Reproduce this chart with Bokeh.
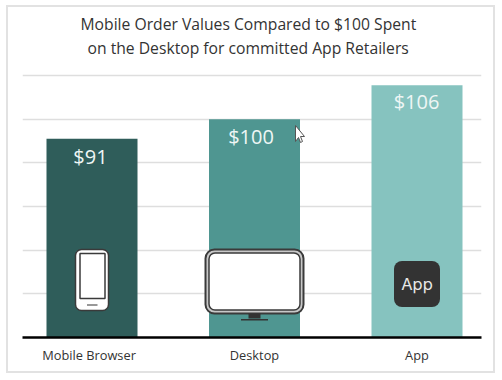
from bokeh.plotting import figure
from bokeh.embed import file_html
from bokeh.resources import INLINE
from bokeh.models import ColumnDataSource, FixedTicker, Title, Range1d
from bokeh.core.properties import value

categories = ["Mobile Browser", "Desktop", "App"]
category_ticks = [-0.018, 1, 2]
bar_heights = [91, 100, 115.5]
value_labels = ["$91", "$100", "$106"]
bar_colors = ["#2f5d5a", "#4f9691", "#86c3bf"]
title_lines = ["on the Desktop for committed App Retailers", "Mobile Order Values Compared to $100 Spent"]
grid_ticks = [20, 40, 60, 80, 100, 120]

X_PX, Y_PX = 162.5, 262 / 120
def dx(px): return px / X_PX
def dy(px): return px / Y_PX

FRAME = "#e2e2e2"
G = f"linear-gradient({FRAME},{FRAME})"
frame_css = ", ".join([
    f"{G} 6px 5px/489px 2px no-repeat",
    f"{G} 6px 371px/489px 2px no-repeat",
    f"{G} 6px 5px/2px 368px no-repeat",
    f"{G} 493px 5px/2px 368px no-repeat",
])

p = figure(width=502, height=380, output_backend="svg", toolbar_location=None,
           x_range=Range1d(-69.5 / X_PX, 389.5 / X_PX), y_range=Range1d(0, 266 / Y_PX),
           min_border_left=22, min_border_right=21, min_border_top=71, min_border_bottom=43,
           outline_line_color=None, background_fill_color=None, border_fill_color=None,
           styles={"background": frame_css})
p.title = None
p.add_layout(Title(text=" ", text_font_size="9.6px", standoff=0), "above")
for line, off in zip(title_lines, [65, 58]):
    p.add_layout(Title(text=line, align="left", offset=off, text_font="Open Sans", text_font_size="15.7px",
                       text_font_style="normal", text_color="#333333", standoff=0,
                       text_line_height=0.78), "above")
p.yaxis.visible = False
p.xgrid.visible = False
p.ygrid.ticker = FixedTicker(ticks=grid_ticks)
p.ygrid.grid_line_color = "#dedede"
p.ygrid.grid_line_width = 1.5
ax = p.xaxis[0]
ax.ticker = FixedTicker(ticks=category_ticks)
ax.major_label_overrides = dict(zip(category_ticks, categories))
ax.axis_line_color = "black"
ax.axis_line_width = 2.5
ax.major_tick_line_color = None
ax.minor_tick_line_color = None
ax.major_label_text_font = "Open Sans"
ax.major_label_text_font_size = "12.8px"
ax.major_label_text_color = "#333333"
ax.major_label_standoff = 2

src = ColumnDataSource(dict(x=[0, 1, 2], top=bar_heights, color=bar_colors, label=value_labels,
                            off=[-1.5, -3.5, -0.5], yoff=[18, 17.5, 16.5]))
p.vbar(x="x", top="top", bottom=0, width=0.56, fill_color="color", line_color=None, source=src)
p.text(x="x", y="top", text="label", source=src, text_color="#eef6f5", text_align="center",
       text_baseline="middle", text_font=value("Open Sans"), text_font_size="20px",
       x_offset="off", y_offset="yoff")

# icons, placed relative to the bar centres
def box(cx, l, r, t, b, fill, line=None, lw=1.5, radius=0):
    # l, r: px from centre; t, b: px above baseline
    p.quad(left=[cx + dx(l)], right=[cx + dx(r)], top=[dy(t)], bottom=[dy(b)],
           fill_color=fill, line_color=line, line_width=lw, border_radius=radius)

# phone
box(0, -16.5, 16.5, 88, 27, "white", "#3a3a3a", 1.5, 6)
box(0, -12, 13, 84, 39, "white", "#3a3a3a", 1.5, 0)
box(0, -5, 5.5, 33, 32, "#333333")
# monitor
box(1, -49, 49, 88, 24, "#c8c8c8", "#3a3a3a", 2, 9)
box(1, -45.5, 45.5, 84.5, 27.5, "white", "#3a3a3a", 1.5, 6)
box(1, -6, 6, 24, 19, "#333333")
box(1, -13.5, 13.5, 18.5, 17, "#333333")
# app tile
box(2, -23, 23, 76.5, 30.5, "#333333", None, 0, 8)
p.text(x=[2], y=[dy(54)], text=["App"], text_color="#e8e8e8", text_align="center",
       text_baseline="middle", text_font=value("Inter"), text_font_size="16.5px")

# mouse pointer seen in the picture
ptr_x = [295, 295, 298, 300, 302, 300, 304]
ptr_y = [125, 141, 137, 142, 141, 136, 136]
p.patch(x=[1 + dx(a - 254) for a in ptr_x], y=[dy(337 - b) for b in ptr_y],
        fill_color="white", line_color="#555555", line_width=1)

open("out.html", "w").write(file_html(p, INLINE))
